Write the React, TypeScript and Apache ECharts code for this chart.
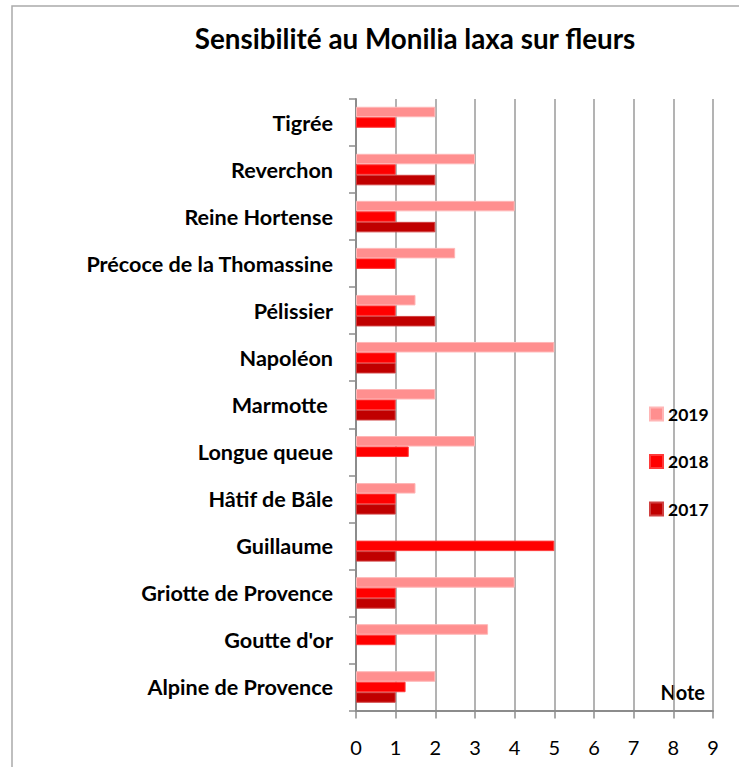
import React, { useEffect, useRef } from "react";
import * as echarts from "echarts";

const categories = [
  "Tigrée",
  "Reverchon",
  "Reine Hortense",
  "Précoce de la Thomassine",
  "Pélissier",
  "Napoléon",
  "Marmotte ",
  "Longue queue",
  "Hâtif de Bâle",
  "Guillaume",
  "Griotte de Provence",
  "Goutte d'or",
  "Alpine de Provence",
];
const years = ["2019", "2018", "2017"];
const v2019 = [2, 3, 4, 2.5, 1.5, 5, 2, 3, 1.5, null, 4, 3.33, 2];
const v2018 = [1, 1, 1, 1, 1, 1, 1, 1.33, 1, 5, 1, 1, 1.25];
const v2017 = [null, 2, 2, null, 2, 1, 1, null, 1, 1, 1, null, 1];
const xTicks = [0, 1, 2, 3, 4, 5, 6, 7, 8, 9];

const FONT = "Lato, sans-serif";

export default function App() {
  const ref = useRef<HTMLDivElement>(null);
  useEffect(() => {
    if (!ref.current) return;
    const chart = echarts.init(ref.current, null, { renderer: "svg" });
    const mk = (name: string, data: (number | null)[], color: string, border: string) => ({
      name,
      type: "bar",
      data,
      barWidth: 10.5,
      barGap: "0%",
      itemStyle: { color, borderColor: border, borderWidth: 1 },
    });
    chart.setOption({
      animation: false,
      backgroundColor: "#fff",
      title: {
        text: "Sensibilité au Monilia laxa sur fleurs",
        left: 410,
        textAlign: "center",
        top: 19,
        textStyle: { fontSize: 27.8, fontWeight: "bold", fontFamily: FONT, color: "#000" },
      },
      grid: { left: 356, top: 99, right: 26, bottom: 56.5, outerBoundsMode: "none" },
      legend: {
        orient: "vertical",
        left: 649,
        top: 405,
        padding: 0,
        itemWidth: 13,
        itemHeight: 13,
        itemGap: 29.5,
        itemTextGap: 4,
        icon: "rect",
        data: years,
        textStyle: { fontSize: 17.5, fontWeight: "bold", fontFamily: FONT, color: "#000" },
      },
      xAxis: {
        type: "value",
        min: 0,
        max: 9,
        interval: 1,
        data: xTicks,
        axisLine: { show: true, lineStyle: { color: "#8c8c8c", width: 2 } },
        axisTick: { show: true, length: 8, lineStyle: { color: "#8c8c8c", width: 1.5 } },
        splitLine: { show: true, lineStyle: { color: "#9a9a9a", width: 1.5 } },
        axisLabel: { fontSize: 20, fontFamily: FONT, color: "#000", margin: 26 },
      },
      yAxis: {
        type: "category",
        data: categories,
        inverse: true,
        axisLine: { show: true, lineStyle: { color: "#8c8c8c", width: 2 } },
        axisTick: { show: true, length: 7, lineStyle: { color: "#8c8c8c", width: 1.5 } },
        axisLabel: { fontSize: 21.6, fontWeight: "bold", fontFamily: FONT, color: "#000", margin: 23 },
      },
      graphic: [
        {
          type: "rect",
          shape: { x: 12, y: 6, width: 900, height: 900 },
          style: { fill: "none", stroke: "#aaaaaa", lineWidth: 1.5 },
          silent: true,
        },
        {
          type: "text",
          x: 705,
          y: 692,
          style: {
            text: "Note",
            textAlign: "right",
            textVerticalAlign: "middle",
            fontSize: 20,
            fontWeight: "bold",
            fontFamily: FONT,
            fill: "#000",
          },
        },
      ],
      series: [
        mk("2019", v2019, "#ff8f8f", "#ffb6b6"),
        mk("2018", v2018, "#ff0000", "#ff3a3a"),
        mk("2017", v2017, "#c00000", "#d04040"),
      ],
    });
    return () => chart.dispose();
  }, []);
  return (
    <div
      ref={ref}
      style={{ position: "absolute", left: 0, top: 0, width: 739, height: 767 }}
    />
  );
}
